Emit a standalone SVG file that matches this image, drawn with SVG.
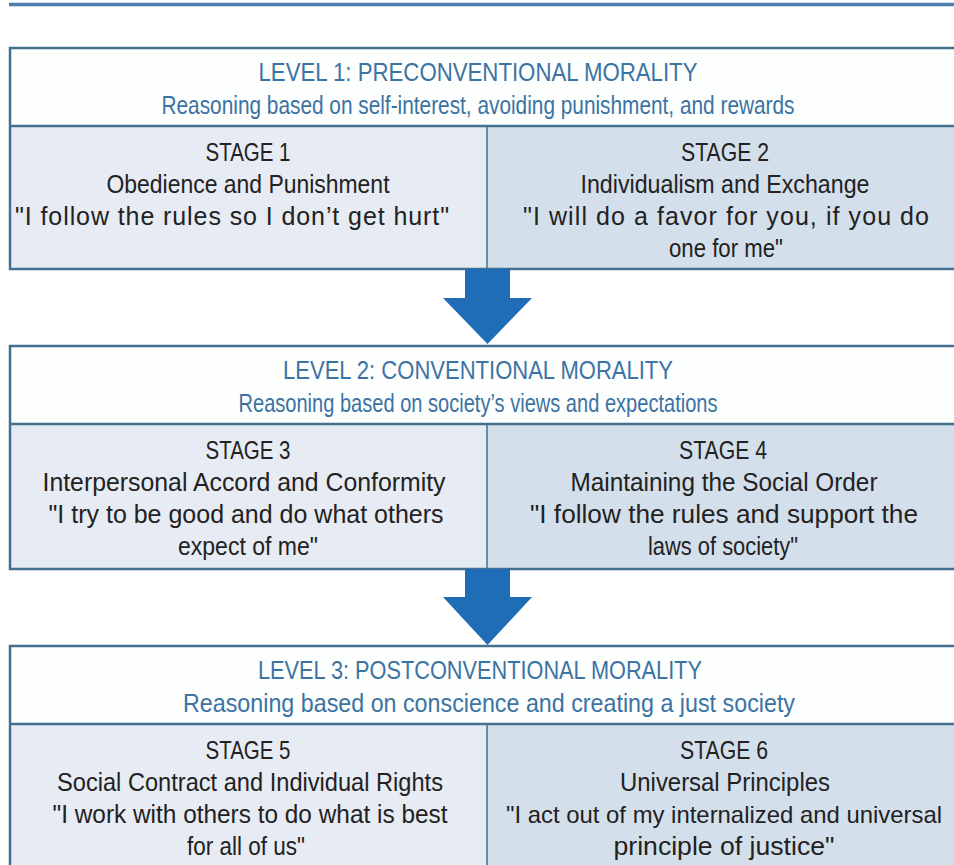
<svg xmlns="http://www.w3.org/2000/svg" width="954" height="865" viewBox="0 0 954 865">
<style>
.hdr{fill:#fdfefe}
.lc{fill:#e7ebf4}
.rc{fill:#d4dfec}
.bd{fill:none;stroke:#43708f;stroke-width:2.5}
.ln{stroke:#43708f;stroke-width:2.5}
.vd{stroke:#43708f;stroke-width:1.5}
.t{font-family:"Liberation Sans",Arial,sans-serif;font-size:25px;text-anchor:middle}
.h{fill:#3b73a3}
.s{fill:#222222}
.arrow{fill:#1f6cb7}
</style>
<rect width="954" height="865" fill="#ffffff"/>
<line x1="9" y1="4.5" x2="954" y2="4.5" stroke="#4c7fae" stroke-width="3.5"/>

<g id="level1">
<rect class="hdr" x="10" y="48" width="950" height="78"/>
<rect class="lc" x="10" y="126" width="477" height="143"/>
<rect class="rc" x="487" y="126" width="473" height="143"/>
<rect class="bd" x="10" y="48" width="950" height="221"/>
<line class="ln" x1="10" y1="126" x2="960" y2="126"/>
<line class="vd" x1="487" y1="126" x2="487" y2="269"/>
<text class="t h" x="478" y="81" textLength="439" lengthAdjust="spacingAndGlyphs">LEVEL 1: PRECONVENTIONAL MORALITY</text>
<text class="t h" x="478" y="114" textLength="633" lengthAdjust="spacingAndGlyphs">Reasoning based on self-interest, avoiding punishment, and rewards</text>
</g>
<g id="stage1">
<text class="t s" x="248" y="161" textLength="85" lengthAdjust="spacingAndGlyphs">STAGE 1</text>
<text class="t s" x="248" y="193" textLength="283" lengthAdjust="spacingAndGlyphs">Obedience and Punishment</text>
<text class="t s" x="232" y="225" textLength="434" lengthAdjust="spacing">"I follow the rules so I don’t get hurt"</text>
</g>
<g id="stage2">
<text class="t s" x="725" y="161" textLength="88" lengthAdjust="spacingAndGlyphs">STAGE 2</text>
<text class="t s" x="725" y="193" textLength="289" lengthAdjust="spacingAndGlyphs">Individualism and Exchange</text>
<text class="t s" x="726" y="225" textLength="406" lengthAdjust="spacing">"I will do a favor for you, if you do</text>
<text class="t s" x="726" y="257" textLength="114" lengthAdjust="spacingAndGlyphs">one for me"</text>
</g>

<g id="level2">
<rect class="hdr" x="10" y="346" width="950" height="78"/>
<rect class="lc" x="10" y="424" width="477" height="145"/>
<rect class="rc" x="487" y="424" width="473" height="145"/>
<rect class="bd" x="10" y="346" width="950" height="223"/>
<line class="ln" x1="10" y1="424" x2="960" y2="424"/>
<line class="vd" x1="487" y1="424" x2="487" y2="569"/>
<text class="t h" x="478" y="379" textLength="390" lengthAdjust="spacingAndGlyphs">LEVEL 2: CONVENTIONAL MORALITY</text>
<text class="t h" x="478" y="412" textLength="479" lengthAdjust="spacingAndGlyphs">Reasoning based on society’s views and expectations</text>
</g>
<g id="stage3">
<text class="t s" x="248" y="459" textLength="85" lengthAdjust="spacingAndGlyphs">STAGE 3</text>
<text class="t s" x="244" y="491" textLength="403" lengthAdjust="spacingAndGlyphs">Interpersonal Accord and Conformity</text>
<text class="t s" x="246" y="523" textLength="395" lengthAdjust="spacingAndGlyphs">"I try to be good and do what others</text>
<text class="t s" x="248" y="555" textLength="140" lengthAdjust="spacingAndGlyphs">expect of me"</text>
</g>
<g id="stage4">
<text class="t s" x="723" y="459" textLength="88" lengthAdjust="spacingAndGlyphs">STAGE 4</text>
<text class="t s" x="724" y="491" textLength="307" lengthAdjust="spacingAndGlyphs">Maintaining the Social Order</text>
<text class="t s" x="724" y="523" textLength="388" lengthAdjust="spacingAndGlyphs">"I follow the rules and support the</text>
<text class="t s" x="723" y="555" textLength="150" lengthAdjust="spacingAndGlyphs">laws of society"</text>
</g>

<g id="level3">
<rect class="hdr" x="10" y="646" width="950" height="78"/>
<rect class="lc" x="10" y="724" width="477" height="150"/>
<rect class="rc" x="487" y="724" width="473" height="150"/>
<rect class="bd" x="10" y="646" width="950" height="228"/>
<line class="ln" x1="10" y1="724" x2="960" y2="724"/>
<line class="vd" x1="487" y1="724" x2="487" y2="874"/>
<text class="t h" x="480" y="679" textLength="444" lengthAdjust="spacingAndGlyphs">LEVEL 3: POSTCONVENTIONAL MORALITY</text>
<text class="t h" x="489" y="712" textLength="612" lengthAdjust="spacingAndGlyphs">Reasoning based on conscience and creating a just society</text>
</g>
<g id="stage5">
<text class="t s" x="248" y="759" textLength="85" lengthAdjust="spacingAndGlyphs">STAGE 5</text>
<text class="t s" x="250" y="791" textLength="386" lengthAdjust="spacingAndGlyphs">Social Contract and Individual Rights</text>
<text class="t s" x="250" y="823" textLength="395" lengthAdjust="spacingAndGlyphs">"I work with others to do what is best</text>
<text class="t s" x="246" y="855" textLength="118" lengthAdjust="spacingAndGlyphs">for all of us"</text>
</g>
<g id="stage6">
<text class="t s" x="724" y="759" textLength="88" lengthAdjust="spacingAndGlyphs">STAGE 6</text>
<text class="t s" x="725" y="791" textLength="210" lengthAdjust="spacingAndGlyphs">Universal Principles</text>
<text class="t s" x="724" y="823" style="font-size:24px" textLength="436" lengthAdjust="spacingAndGlyphs">"I act out of my internalized and universal</text>
<text class="t s" x="724" y="855" textLength="221" lengthAdjust="spacingAndGlyphs">principle of justice"</text>
</g>

<g id="connectors">
<polygon class="arrow" points="465,269 510,269 510,298 532,298 487.5,344 443,298 465,298"/>
<polygon class="arrow" points="465,569 510,569 510,597 532,597 487.5,645 443,597 465,597"/>
</g>
</svg>
